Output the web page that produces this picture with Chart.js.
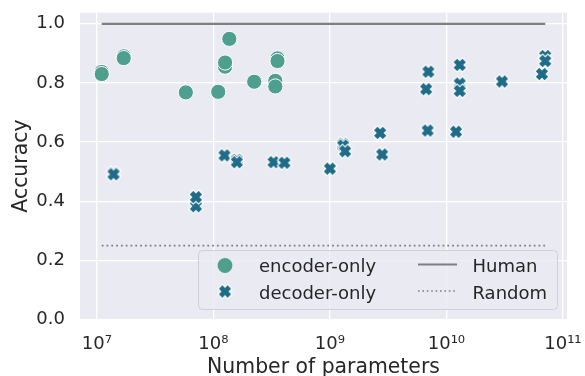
<!DOCTYPE html>
<html><head><meta charset="utf-8">
<script src="https://cdn.jsdelivr.net/npm/chart.js@4/dist/chart.umd.min.js"></script>
<style>html,body{margin:0;padding:0;background:#fff}canvas{display:block}</style>
</head><body>
<canvas id="c" width="585" height="376"></canvas>
<script>
// ---- data ----
const encoderParams = [1.1e7, 1.1e7, 1.7e7, 1.7e7, 5.8e7, 1.1e8, 1.26e8, 1.26e8, 1.37e8, 2.24e8, 3.55e8, 3.55e8, 3.4e8, 3.4e8];
const encoderAcc    = [0.837, 0.830, 0.890, 0.884, 0.768, 0.770, 0.855, 0.869, 0.949, 0.804, 0.883, 0.874, 0.807, 0.788];
const decoderParams = [1.39e7, 1.39e7, 7.08e7, 7.08e7, 1.245e8, 1.59e8, 1.59e8, 3.28e8, 4.07e8, 1.0e9, 1.3e9, 1.3e9, 1.35e9, 2.7e9, 2.81e9, 7.0e9, 6.7e9, 6.9e9, 1.3e10, 1.3e10, 1.3e10, 1.21e10, 3.0e10, 7.05e10, 7.05e10, 6.6e10];
const decoderAcc    = [0.495, 0.491, 0.383, 0.414, 0.555, 0.540, 0.532, 0.532, 0.530, 0.510, 0.594, 0.588, 0.569, 0.631, 0.558, 0.838, 0.779, 0.639, 0.861, 0.798, 0.773, 0.635, 0.805, 0.891, 0.874, 0.830];
const refParams = [1.1e7, 7.05e10];
const humanAcc  = [1.0, 1.0];
const randomAcc = [0.25, 0.25];
const seriesNames = ['encoder-only', 'decoder-only', 'Human', 'Random'];
const xTickValues = [1e7, 1e8, 1e9, 1e10, 1e11];
const xTickLabels = ['10\u2077', '10\u2078', '10\u2079', '10\u00B9\u2070', '10\u00B9\u00B9'];
const yTickValues = [0, 0.2, 0.4, 0.6, 0.8, 1.0];
const yTickLabels = ['0.0', '0.2', '0.4', '0.6', '0.8', '1.0'];
const xTitle = 'Number of parameters';
const yTitle = 'Accuracy';

const ENC_COLOR = '#4f9f8e';
const DEC_COLOR = '#1f6c88';
const LINE_COLOR = '#7f7f7f';
const TEXT_COLOR = '#262626';
const FONT = '"DejaVu Sans", sans-serif';

function pts(xs, ys) { return xs.map((x, i) => ({x: x, y: ys[i]})); }

function makeX(color) {
  const c = document.createElement('canvas');
  c.width = 20; c.height = 20;
  const g = c.getContext('2d');
  const m = 10, d = 4.4;
  function arms(w, ext) {
    g.lineWidth = w; g.lineCap = 'butt';
    g.beginPath();
    g.moveTo(m - d - ext, m - d - ext); g.lineTo(m + d + ext, m + d + ext);
    g.moveTo(m + d + ext, m - d - ext); g.lineTo(m - d - ext, m + d + ext);
    g.stroke();
  }
  g.strokeStyle = '#ffffff'; arms(7.2, 0.8);
  g.strokeStyle = color; arms(5.0, 0);
  return c;
}
const xImg = makeX(DEC_COLOR);

const bgPlugin = {
  id: 'bg',
  beforeDraw(chart) {
    const a = chart.chartArea, ctx = chart.ctx;
    ctx.save();
    ctx.fillStyle = '#eaeaf2';
    ctx.fillRect(a.left, a.top, a.right - a.left, a.bottom - a.top);
    ctx.restore();
  }
};

const titlesPlugin = {
  id: 'axisTitles',
  afterDraw(chart) {
    const ctx = chart.ctx, a = chart.chartArea;
    ctx.save();
    ctx.fillStyle = TEXT_COLOR;
    ctx.textAlign = 'center';
    ctx.textBaseline = 'alphabetic';
    ctx.font = '20.4px ' + FONT;
    ctx.fillText(xTitle, (a.left + a.right) / 2, 372.7);
    ctx.translate(26.6, (a.top + a.bottom) / 2);
    ctx.rotate(-Math.PI / 2);
    ctx.fillText(yTitle, 0, 0);
    ctx.restore();
  }
};

const legendPlugin = {
  id: 'customLegend',
  afterDraw(chart) {
    const ctx = chart.ctx;
    ctx.save();
    const bx = 198.5, by = 250.5, bw = 359, bh = 59, r = 4;
    ctx.beginPath();
    ctx.roundRect(bx, by, bw, bh, r);
    ctx.fillStyle = 'rgba(234,234,242,0.8)';
    ctx.fill();
    ctx.strokeStyle = '#cfcfd6';
    ctx.lineWidth = 1;
    ctx.stroke();
    ctx.beginPath();
    ctx.arc(225, 265.5, 7.4, 0, Math.PI * 2);
    ctx.fillStyle = ENC_COLOR; ctx.fill();
    ctx.drawImage(xImg, 225 - 10, 291.5 - 10);
    ctx.strokeStyle = LINE_COLOR;
    ctx.lineWidth = 2;
    ctx.beginPath(); ctx.moveTo(418, 264.5); ctx.lineTo(457, 264.5); ctx.stroke();
    ctx.lineWidth = 1.6;
    ctx.setLineDash([1.6, 2.8]);
    ctx.beginPath(); ctx.moveTo(418, 291); ctx.lineTo(457, 291); ctx.stroke();
    ctx.setLineDash([]);
    ctx.fillStyle = TEXT_COLOR;
    ctx.font = '18px ' + FONT;
    ctx.textAlign = 'left';
    ctx.textBaseline = 'alphabetic';
    ctx.fillText(seriesNames[0], 259, 271.5);
    ctx.fillText(seriesNames[1], 259, 298.5);
    ctx.fillText(seriesNames[2], 472.5, 271.5);
    ctx.fillText(seriesNames[3], 472.5, 298.5);
    ctx.restore();
  }
};

Chart.defaults.font.family = FONT;
Chart.defaults.font.size = 18;
Chart.defaults.color = TEXT_COLOR;

new Chart(document.getElementById('c'), {
  type: 'scatter',
  data: {
    datasets: [
      { label: seriesNames[2], data: pts(refParams, humanAcc), showLine: true, borderColor: LINE_COLOR, borderWidth: 2.2, pointRadius: 0, order: 1 },
      { label: seriesNames[3], data: pts(refParams, randomAcc), showLine: true, borderColor: LINE_COLOR, borderWidth: 1.8, borderDash: [1.8, 3], pointRadius: 0, order: 2 },
      { label: seriesNames[1], data: pts(decoderParams, decoderAcc), pointStyle: xImg, pointRadius: 7, order: 3 },
      { label: seriesNames[0], data: pts(encoderParams, encoderAcc), pointStyle: 'circle', pointRadius: 7.6, pointBackgroundColor: ENC_COLOR, pointBorderColor: '#ffffff', pointBorderWidth: 1, order: 4 }
    ]
  },
  options: {
    responsive: false,
    animation: false,
    devicePixelRatio: 1,
    layout: { padding: { top: 12.7, right: 18, bottom: 0, left: 0 }, autoPadding: false },
    plugins: { legend: { display: false }, tooltip: { enabled: false } },
    elements: { point: { hoverRadius: 7 } },
    scales: {
      x: {
        type: 'logarithmic',
        min: Math.pow(10, 6.855),
        max: Math.pow(10, 11.035),
        afterBuildTicks: (s) => { s.ticks = xTickValues.map(v => ({ value: v })); },
        afterFit: (s) => { s.height = 56.5; s.paddingLeft = 0; s.paddingRight = 0; },
        ticks: { callback: (v, i) => xTickLabels[i], padding: 14, maxRotation: 0, autoSkip: false, color: TEXT_COLOR },
        grid: { color: '#ffffff', lineWidth: 1.3, drawTicks: false },
        border: { display: false },
        title: { display: false, text: xTitle }
      },
      y: {
        min: 0,
        max: 1.0375,
        afterBuildTicks: (s) => { s.ticks = yTickValues.map(v => ({ value: v })); },
        afterFit: (s) => { s.width = 80; s.paddingTop = 0; s.paddingBottom = 0; },
        ticks: { callback: (v, i) => yTickLabels[i], padding: 15, color: TEXT_COLOR },
        grid: { color: '#ffffff', lineWidth: 1.3, drawTicks: false },
        border: { display: false },
        title: { display: false, text: yTitle }
      }
    }
  },
  plugins: [bgPlugin, titlesPlugin, legendPlugin]
});
</script>
</body></html>
